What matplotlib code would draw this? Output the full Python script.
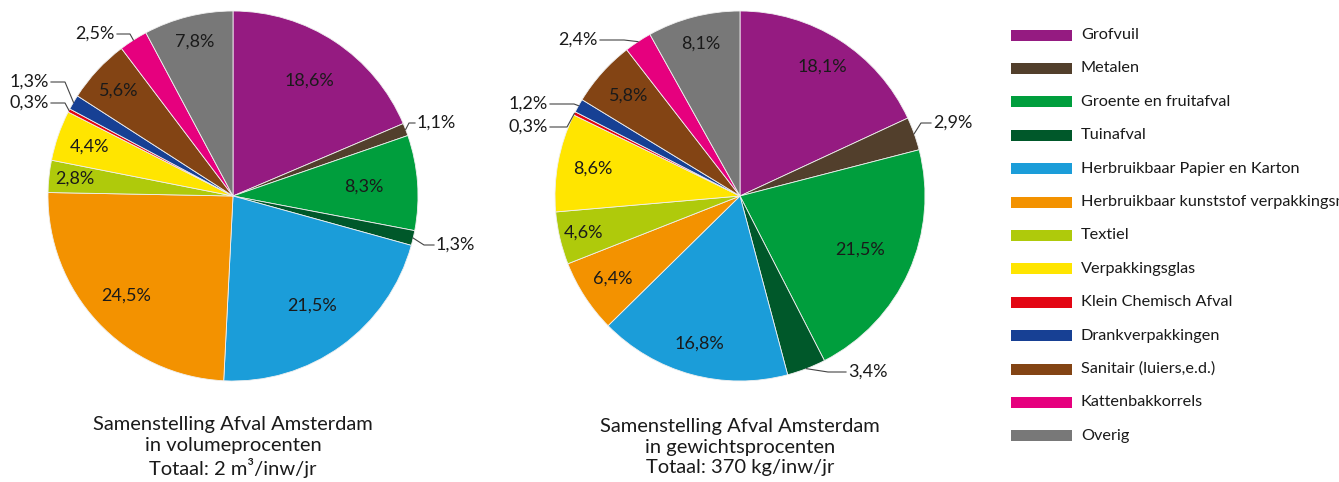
import numpy as np
import matplotlib
matplotlib.use("Agg")
from matplotlib import pyplot as plt
from matplotlib.patches import Rectangle

plt.rcParams['font.family'] = ['Lato', 'DejaVu Sans']

categories = ["Grofvuil", "Metalen", "Groente en fruitafval", "Tuinafval",
              "Herbruikbaar Papier en Karton",
              "Herbruikbaar kunststof verpakkingsmateriaal", "Textiel",
              "Verpakkingsglas", "Klein Chemisch Afval", "Drankverpakkingen",
              "Sanitair (luiers,e.d.)", "Kattenbakkorrels", "Overig"]
volume = [18.6, 1.1, 8.3, 1.3, 21.5, 24.5, 2.8, 4.4, 0.3, 1.3, 5.6, 2.5, 7.8]
gewicht = [18.1, 2.9, 21.5, 3.4, 16.8, 6.4, 4.6, 8.6, 0.3, 1.2, 5.8, 2.4, 8.1]
titles = ["Samenstelling Afval Amsterdam\nin volumeprocenten\nTotaal: 2 m\u00b3/inw/jr",
          "Samenstelling Afval Amsterdam\nin gewichtsprocenten\nTotaal: 370 kg/inw/jr"]

colors = ["#951B81", "#523F2C", "#009E3D", "#00582A", "#1B9DD9", "#F39200",
          "#AFCA0B", "#FFE500", "#E30613", "#174094", "#834414", "#E6007E",
          "#787878"]

W, H = 1339, 482
fig = plt.figure(figsize=(W / 100, H / 100), dpi=100)
ax = fig.add_axes([0, 0, 1, 1])

R = 185

# inside label distance (fraction of radius), None = label outside
inner1 = [0.75, None, 0.71, None, 0.73, 0.79, 0.86, 0.82, None, None, 0.84, None, 0.86]
inner2 = [0.83, None, 0.71, None, 0.83, 0.82, 0.87, 0.81, None, None, 0.81, None, 0.85]
# outside labels: index -> (text x, text y, side, elbow gap)
outer1 = {1: (417, 123, 'left', 6), 3: (436, 245, 'left', 10),
          9: (49, 82, 'right', 14), 8: (49, 103, 'right', 14),
          11: (115, 34, 'right', 13)}
outer2 = {1: (933, 123, 'left', 10), 3: (848, 372, 'left', 18),
          9: (548, 104, 'right', 24), 8: (548, 127, 'right', 17),
          11: (598, 40, 'right', 24)}


def fy(y):
    return H - y


def fmt(v):
    return ("%.1f%%" % v).replace(".", ",")


def draw_pie(vals, cx, cy, inner, outer, title):
    ax.pie(vals, colors=colors, startangle=90, counterclock=False,
           center=(cx, fy(cy)), radius=R,
           wedgeprops=dict(edgecolor='#f0f0f0', linewidth=0.6))
    tot = float(sum(vals))
    cum = np.cumsum([0] + list(vals))
    for i, v in enumerate(vals):
        ang = np.deg2rad(90 - 360 * (cum[i] + v / 2) / tot)
        if inner[i] is not None:
            d = inner[i] * R
            ax.text(cx + d * np.cos(ang), fy(cy) + d * np.sin(ang), fmt(v),
                    ha='center', va='center', fontsize=13, color='#1a1a1a')
        else:
            tx, ty, side, gap = outer[i]
            ex = cx + R * np.cos(ang)
            ey = fy(cy) + R * np.sin(ang)
            if side == 'left':
                sx, elx = tx - 2, tx - 2 - gap
            else:
                sx, elx = tx + 2, tx + 2 + gap
            ax.plot([sx, elx, ex], [fy(ty), fy(ty), ey], color='#444444', lw=0.8)
            ax.text(tx, fy(ty), fmt(v), ha=side, va='center', fontsize=13,
                    color='#1a1a1a')
    ax.text(cx, fy(447), title, ha='center', va='center', fontsize=14.5,
            color='#1a1a1a', linespacing=1.28)


draw_pie(volume, 233, 196, inner1, outer1, titles[0])
draw_pie(gewicht, 740, 196, inner2, outer2, titles[1])

# legend
for i, (c, lab) in enumerate(zip(colors, categories)):
    y = 35 + i * 33.4
    ax.add_patch(Rectangle((1011, fy(y) - 5.5), 61, 11, color=c, lw=0))
    ax.text(1081, fy(y), lab, ha='left', va='center', fontsize=11.7, color='#1a1a1a')

ax.set_xlim(0, W)
ax.set_ylim(0, H)
ax.set_aspect('auto')
ax.axis('off')

fig.savefig("out.png", dpi=100, facecolor='white')
